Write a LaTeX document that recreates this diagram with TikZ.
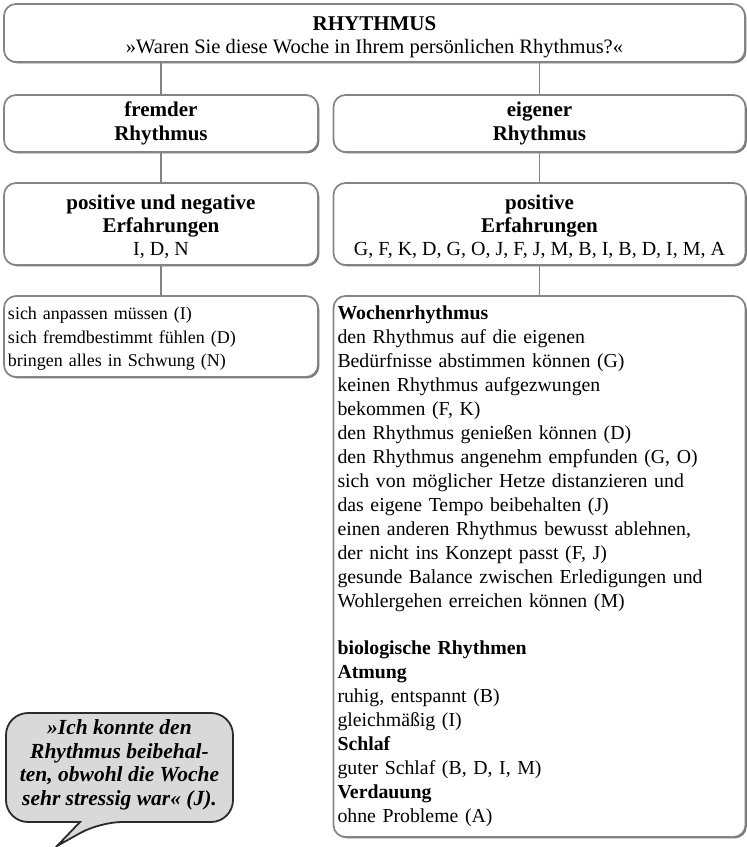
\documentclass[tikz,border=0pt]{standalone}
\usepackage{fontspec}
\setmainfont{Liberation Serif}
\usetikzlibrary{shadows}
\definecolor{bord}{HTML}{848484}
\definecolor{shad}{HTML}{6C6C6C}
\definecolor{bubfill}{HTML}{D9D9D9}
\definecolor{bubline}{HTML}{2B2B2B}
\begin{document}
\begin{tikzpicture}[x=1pt,y=-1pt,
  box/.style={draw=bord, line width=1.7pt, rounded corners=12pt, fill=white, inner sep=0pt,
    drop shadow={shadow xshift=1.3pt, shadow yshift=-1.3pt, fill=shad, opacity=1}},
  conn/.style={draw=bord, line width=1.9pt},
  toptxt/.style={font=\fontsize{20.5}{23}\selectfont},
  hd/.style={font=\fontsize{21}{23.5}\selectfont\bfseries},
  midtxt/.style={font=\fontsize{20}{23}\selectfont},
  lefttxt/.style={font=\fontsize{18}{23.5}\selectfont},
  righttxt/.style={font=\fontsize{19.8}{24}\selectfont},
  bubble/.style={draw=bubline, fill=bubfill, line width=1.8pt},
]
\useasboundingbox (0,0) rectangle (747,847);

\node[box, toptxt, minimum width=741pt, minimum height=58pt, align=center] (top) at (374.5,33)
  {\rule{0pt}{22pt}\textbf{\fontsize{21}{23}\selectfont RHYTHMUS}\\»Waren Sie diese Woche in Ihrem persönlichen Rhythmus?«};

\node[box, hd, minimum width=314pt, minimum height=57pt, align=center] (fr) at (161,123.5)
  {fremder\\Rhythmus};
\node[box, hd, minimum width=412pt, minimum height=57pt, align=center] (ei) at (539.5,123.5)
  {eigener\\Rhythmus};

\node[box, midtxt, minimum width=314pt, minimum height=82pt, align=center] (pn) at (161,224)
  {\rule{0pt}{19.5pt}\textbf{\fontsize{21}{23.5}\selectfont positive und negative}\\\textbf{\fontsize{21}{23.5}\selectfont Erfahrungen}\\I, D, N};
\node[box, midtxt, minimum width=412pt, minimum height=82pt, align=center] (po) at (539.5,224)
  {\rule{0pt}{19.5pt}\textbf{\fontsize{21}{23.5}\selectfont positive}\\\textbf{\fontsize{21}{23.5}\selectfont Erfahrungen}\\G, F, K, D, G, O, J, F, J, M, B, I, B, D, I, M, A};

\node[box, lefttxt, minimum width=314pt, minimum height=81pt, text width=306pt, align=left] (lb) at (161,336.5)
  {\rule{0pt}{17.5pt}sich anpassen müssen (I)\\sich fremdbestimmt fühlen (D)\\bringen alles in Schwung (N)};

\node[box, righttxt, minimum width=412pt, minimum height=541pt, text width=404pt, align=left] (rb) at (539.5,566.5)
  {\textbf{Wochenrhythmus}\\
   den Rhythmus auf die eigenen\\
   Bedürfnisse abstimmen können (G)\\
   keinen Rhythmus aufgezwungen\\
   bekommen (F, K)\\
   den Rhythmus genießen können (D)\\
   den Rhythmus angenehm empfunden (G, O)\\
   sich von möglicher Hetze distanzieren und\\
   das eigene Tempo beibehalten (J)\\
   einen anderen Rhythmus bewusst ablehnen,\\
   der nicht ins Konzept passt (F, J)\\
   gesunde Balance zwischen Erledigungen und\\
   Wohlergehen erreichen können (M)\\[23pt]
   \textbf{biologische Rhythmen}\\
   \textbf{Atmung}\\
   ruhig, entspannt (B)\\
   gleichmäßig (I)\\
   \textbf{Schlaf}\\
   guter Schlaf (B, D, I, M)\\
   \textbf{Verdauung}\\
   ohne Probleme (A)};

\draw[conn] (top.south -| fr.north) -- (fr.north);
\draw[conn] (top.south -| ei.north) -- (ei.north);
\draw[conn] (fr.south) -- (pn.north);
\draw[conn] (ei.south) -- (po.north);
\draw[conn] (pn.south) -- (lb.north);
\draw[conn] (po.south) -- (rb.north);

\draw[bubble] [rounded corners=22pt] (80,822) -| (6,713) -| (233,822) -- (100,822)
  [sharp corners] -- (57,846) -- cycle;
\node[font=\fontsize{21.5}{23.6}\selectfont\bfseries\itshape, align=center, inner sep=0pt] (quote) at (119.5,765)
  {»Ich konnte den\\Rhythmus beibehal-\\ten, obwohl die Woche\\sehr stressig war« (J).};
\end{tikzpicture}
\end{document}
